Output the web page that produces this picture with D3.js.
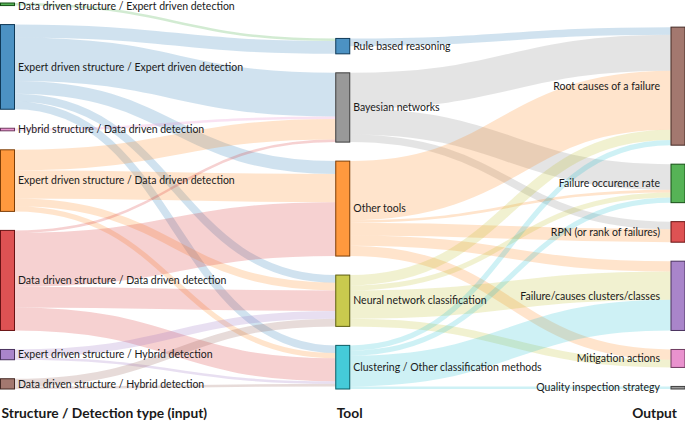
<!DOCTYPE html>
<html>
<head>
<meta charset="utf-8">
<script src="https://cdn.jsdelivr.net/npm/d3@7"></script>
<style>
  html, body { margin: 0; padding: 0; background: #fff; }
  svg { display: block; }
  text { font-family: Lato, "Open Sans", sans-serif; fill: #1a1a1a; }
</style>
</head>
<body>
<svg id="chart" width="685" height="422"></svg>
<script>
// ---------------- data ----------------
const inputs = [
  "Data driven structure / Expert driven detection",
  "Expert driven structure / Expert driven detection",
  "Hybrid structure / Data driven detection",
  "Expert driven structure / Data driven detection",
  "Data driven structure / Data driven detection",
  "Expert driven structure / Hybrid detection",
  "Data driven structure / Hybrid detection"
];
const inputColors = ["#2ca02c", "#1f77b4", "#e377c2", "#ff7f0e", "#d62728", "#9467bd", "#8c564b"];

const tools = [
  "Rule based reasoning",
  "Bayesian networks",
  "Other tools",
  "Neural network classification",
  "Clustering / Other classification methods"
];
const toolColors = ["#1f77b4", "#7f7f7f", "#ff7f0e", "#bcbd22", "#17becf"];

const outputs = [
  "Root causes of a failure",
  "Failure occurence rate",
  "RPN (or rank of failures)",
  "Failure/causes clusters/classes",
  "Mitigation actions",
  "Quality inspection strategy"
];
const outputColors = ["#8c564b", "#2ca02c", "#d62728", "#9467bd", "#e377c2", "#7f7f7f"];

// [input index, tool index, value]
const inputToolLinks = [
  [0, 0, 1],
  [1, 0, 5], [1, 1, 17], [1, 2, 5], [1, 3, 3], [1, 4, 3],
  [2, 1, 1],
  [3, 1, 8], [3, 2, 11], [3, 3, 3], [3, 4, 2],
  [4, 1, 1], [4, 2, 21], [4, 3, 8], [4, 4, 9],
  [5, 3, 3], [5, 4, 1],
  [6, 3, 3], [6, 4, 1]
];
// [tool index, output index, value]
const toolOutputLinks = [
  [0, 0, 3],
  [1, 0, 14], [1, 1, 10], [1, 2, 3],
  [2, 0, 23], [2, 1, 1], [2, 2, 5], [2, 3, 4], [2, 4, 4],
  [3, 0, 4], [3, 1, 2], [3, 3, 11], [3, 4, 3],
  [4, 0, 2], [4, 1, 2], [4, 3, 12], [4, 5, 1]
];

const columnTitles = ["Structure / Detection type (input)", "Tool", "Output"];

// ---------------- layout ----------------
const W = 685, H = 422;
const nodeWidth = 14, nodePadding = 19;
const extentY0 = 3, extentY1 = 389;

const columns = [
  inputs.map((n, i) => ({name: n, color: inputColors[i], col: 0})),
  tools.map((n, i) => ({name: n, color: toolColors[i], col: 1})),
  outputs.map((n, i) => ({name: n, color: outputColors[i], col: 2}))
];
const nodes = columns.flat();
nodes.forEach(n => { n.sourceLinks = []; n.targetLinks = []; });

const links = [];
inputToolLinks.forEach(([s, t, v]) => links.push({source: columns[0][s], target: columns[1][t], value: v}));
toolOutputLinks.forEach(([s, t, v]) => links.push({source: columns[1][s], target: columns[2][t], value: v}));
links.forEach(l => { l.source.sourceLinks.push(l); l.target.targetLinks.push(l); });

nodes.forEach(n => {
  n.value = Math.max(d3.sum(n.sourceLinks, l => l.value), d3.sum(n.targetLinks, l => l.value));
});

const ky = d3.min(columns, c => (extentY1 - extentY0 - (c.length - 1) * nodePadding) / d3.sum(c, n => n.value));
const vScale = d3.scaleLinear().domain([0, 1]).range([0, ky]);
const xCol = d3.scaleLinear().domain([0, 2]).range([0.5, W - nodeWidth]);

columns.forEach((c, ci) => {
  const total = vScale(d3.sum(c, n => n.value)) + (c.length - 1) * nodePadding;
  let y = extentY1 - total;
  c.forEach(n => {
    n.x0 = xCol(ci); n.x1 = n.x0 + nodeWidth;
    n.y0 = y; n.y1 = y + vScale(n.value);
    y = n.y1 + nodePadding;
  });
});
links.forEach(l => l.width = vScale(l.value));
nodes.forEach(n => {
  n.sourceLinks.sort((a, b) => a.target.y0 - b.target.y0);
  n.targetLinks.sort((a, b) => a.source.y0 - b.source.y0);
  let y = n.y0;
  n.sourceLinks.forEach(l => { l.y0 = y + l.width / 2; y += l.width; });
  y = n.y0;
  n.targetLinks.forEach(l => { l.y1 = y + l.width / 2; y += l.width; });
});

// ---------------- draw ----------------
const svg = d3.select("#chart");

const linkPath = d3.linkHorizontal()
  .source(d => [d.source.x1, d.y0])
  .target(d => [d.target.x0, d.y1]);

svg.append("g")
  .attr("fill", "none")
  .selectAll("path")
  .data(links)
  .join("path")
  .attr("d", linkPath)
  .attr("stroke", d => d.source.color)
  .attr("stroke-opacity", 0.21)
  .attr("stroke-width", d => Math.max(1, d.width));

svg.append("g")
  .selectAll("rect")
  .data(nodes)
  .join("rect")
  .attr("x", d => d.x0)
  .attr("y", d => d.y0)
  .attr("width", d => d.x1 - d.x0)
  .attr("height", d => Math.max(1, d.y1 - d.y0))
  .attr("fill", d => d.color)
  .attr("fill-opacity", 0.8)
  .attr("stroke", d => d3.rgb(d.color).darker(2))
  .attr("stroke-width", 1);

svg.append("g")
  .style("font-size", "10.5px")
  .selectAll("text")
  .data(nodes)
  .join("text")
  .attr("x", d => d.col < 2 ? d.x1 + 3.5 : d.x0 - 11)
  .attr("y", d => Math.max(6, (d.y0 + d.y1) / 2))
  .attr("dy", "0.35em")
  .attr("text-anchor", d => d.col < 2 ? "start" : "end")
  .text(d => d.name);

const titleG = svg.append("g")
  .style("font-size", "13.8px")
  .style("font-weight", "bold");
titleG.append("text").attr("x", 1.5).attr("y", 418).attr("text-anchor", "start").text(columnTitles[0]);
titleG.append("text").attr("x", xCol(1) + 1).attr("y", 418).attr("text-anchor", "start").text(columnTitles[1]);
titleG.append("text").attr("x", W - 8).attr("y", 418).attr("text-anchor", "end").text(columnTitles[2]);
</script>
</body>
</html>
